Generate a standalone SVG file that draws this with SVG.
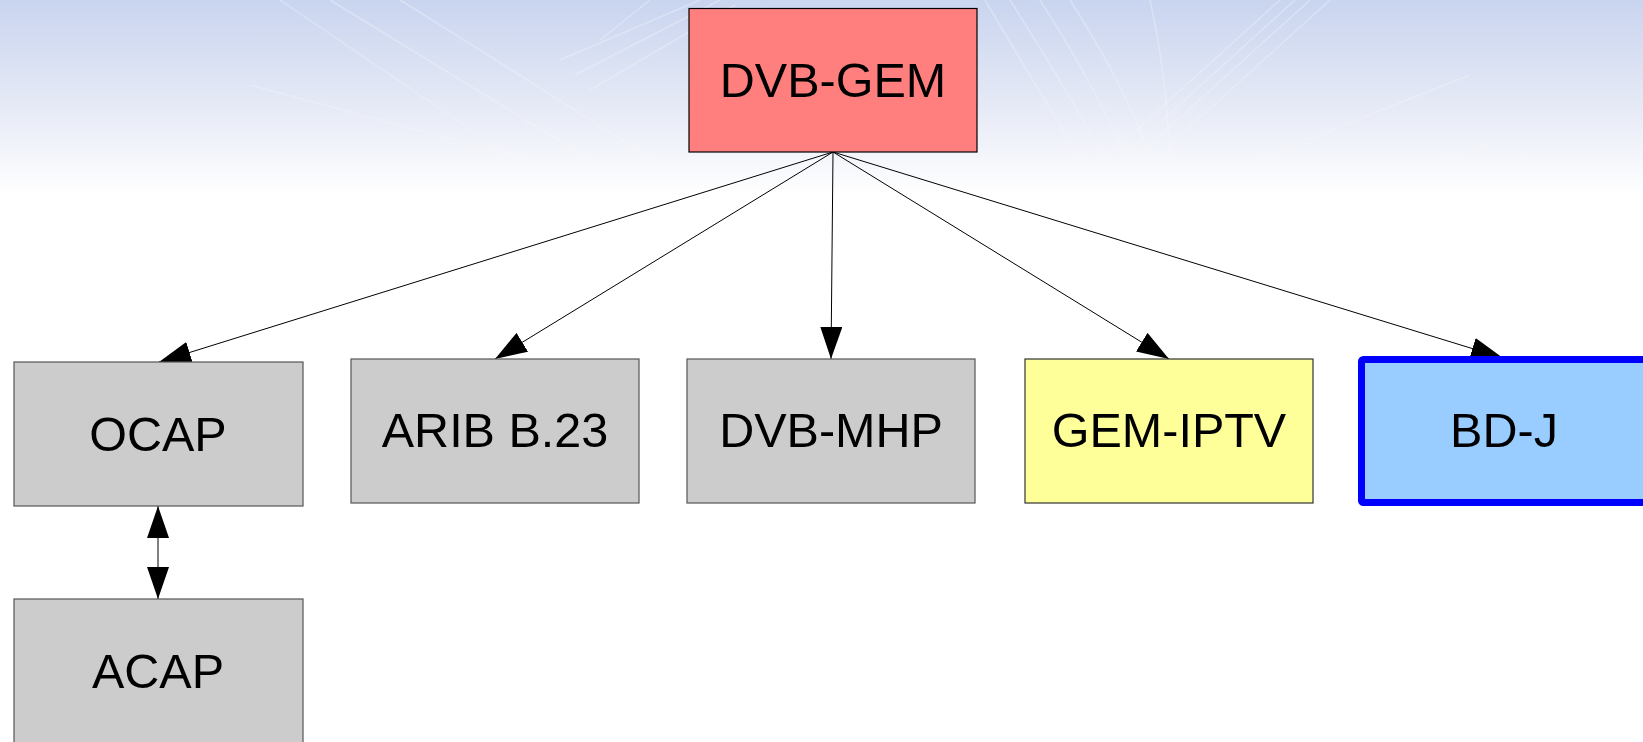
<svg xmlns="http://www.w3.org/2000/svg" width="1643" height="742" viewBox="0 0 1643 742">
<style>
  .box text { font-family: "Liberation Sans", Arial, sans-serif; font-size: 48.5px; fill: #000; text-anchor: middle; }
  .gray { fill: #cccccc; stroke: #555555; stroke-width: 1.2; }
  .conn line { stroke: #000; stroke-width: 1; }
  .bgl { fill: none; stroke: #ffffff; stroke-width: 1.5; opacity: 0.3; }
</style>
<defs>
  <linearGradient id="bg" x1="0" y1="0" x2="0" y2="1">
    <stop offset="0" stop-color="#c9d4ef"/>
    <stop offset="0.55" stop-color="#e6eaf6"/>
    <stop offset="1" stop-color="#ffffff"/>
  </linearGradient>
  <linearGradient id="fade" x1="0" y1="0" x2="0" y2="1">
    <stop offset="0" stop-color="#fff" stop-opacity="1"/>
    <stop offset="0.7" stop-color="#fff" stop-opacity="0.6"/>
    <stop offset="1" stop-color="#fff" stop-opacity="0"/>
  </linearGradient>
  <mask id="m"><rect x="0" y="0" width="1643" height="195" fill="url(#fade)"/></mask>
  <marker id="ah" markerUnits="userSpaceOnUse" markerWidth="32" markerHeight="22" refX="32" refY="11" orient="auto-start-reverse" viewBox="0 0 32 22">
    <path d="M0,0 L32,11 L0,22 z" fill="#000"/>
  </marker>
</defs>
<rect x="0" y="0" width="1643" height="742" fill="#ffffff"/>
<rect x="0" y="0" width="1643" height="195" fill="url(#bg)"/>
<g mask="url(#m)">
  <path class="bgl" d="M280,0 L560,190"/>
  <path class="bgl" d="M330,0 L640,190"/>
  <path class="bgl" d="M400,0 Q560,100 700,190"/>
  <path class="bgl" d="M250,85 L640,190"/>
  <path class="bgl" d="M560,60 L700,0"/>
  <path class="bgl" d="M575,75 L720,0"/>
  <path class="bgl" d="M590,90 L735,5"/>
  <path class="bgl" d="M600,40 L650,0"/>
  <path class="bgl" d="M985,0 Q1050,110 1100,190"/>
  <path class="bgl" d="M1010,0 Q1080,110 1120,190"/>
  <path class="bgl" d="M1040,0 Q1110,110 1140,190"/>
  <path class="bgl" d="M1070,0 Q1140,110 1160,190"/>
  <path class="bgl" d="M1150,0 Q1170,90 1170,190"/>
  <path class="bgl" d="M1330,0 Q1230,90 1120,190"/>
  <path class="bgl" d="M1310,0 Q1210,90 1100,190"/>
  <path class="bgl" d="M1295,0 Q1195,90 1085,190"/>
  <path class="bgl" d="M1280,0 Q1180,90 1070,190"/>
  <path class="bgl" d="M1470,75 L1180,190"/>
  <path class="bgl" d="M1380,180 L1500,140"/>
</g>
<g id="connectors" class="conn">
  <line x1="833" y1="152" x2="159" y2="362" marker-end="url(#ah)"/>
  <line x1="833" y1="152" x2="495" y2="359" marker-end="url(#ah)"/>
  <line x1="833" y1="152" x2="831" y2="359" marker-end="url(#ah)"/>
  <line x1="833" y1="152" x2="1169" y2="359" marker-end="url(#ah)"/>
  <line x1="833" y1="152" x2="1503" y2="358" marker-end="url(#ah)"/>
  <line x1="158" y1="506" x2="158" y2="599" marker-start="url(#ah)" marker-end="url(#ah)"/>
</g>
<g id="dvb-gem" class="box">
  <rect x="689" y="8.5" width="288" height="143.5" fill="#ff7f7f" stroke="#000" stroke-width="1.2"/>
  <text x="833" y="97">DVB-GEM</text>
</g>
<g id="ocap" class="box">
  <rect class="gray" x="14" y="362" width="289" height="144"/>
  <text x="158" y="451">OCAP</text>
</g>
<g id="acap" class="box">
  <rect class="gray" x="14" y="599" width="289" height="145"/>
  <text x="158" y="688">ACAP</text>
</g>
<g id="arib" class="box">
  <rect class="gray" x="351" y="359" width="288" height="144"/>
  <text x="495" y="447">ARIB B.23</text>
</g>
<g id="dvb-mhp" class="box">
  <rect class="gray" x="687" y="359" width="288" height="144"/>
  <text x="831" y="447">DVB-MHP</text>
</g>
<g id="gem-iptv" class="box">
  <rect x="1025" y="359" width="288" height="144" fill="#ffff99" stroke="#333333" stroke-width="1.2"/>
  <text x="1169" y="447">GEM-IPTV</text>
</g>
<g id="bd-j" class="box">
  <rect x="1361.5" y="359.5" width="290" height="143" rx="2" fill="#99ccff" stroke="#0000ff" stroke-width="7"/>
  <text x="1504" y="447">BD-J</text>
</g>
</svg>
